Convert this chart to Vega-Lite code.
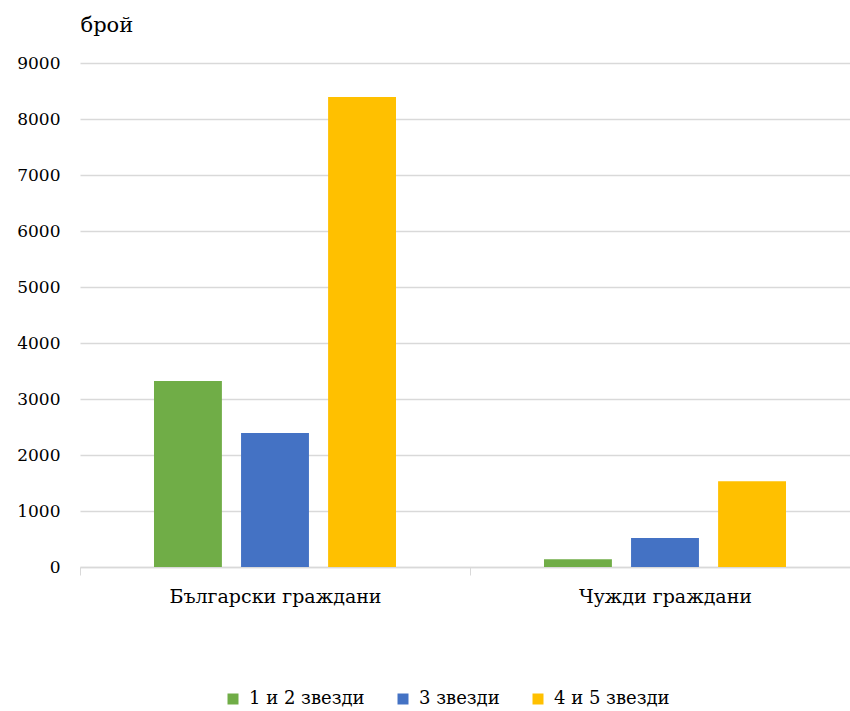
{
  "$schema": "https://vega.github.io/schema/vega-lite/v6.json",
  "autosize": "none",
  "width": 770,
  "height": 504,
  "padding": {"left": 80, "top": 63, "right": 0, "bottom": 144},
  "background": "white",
  "config": {
    "font": "DejaVu Serif",
    "view": {"stroke": null},
    "axis": {"labelFont": "DejaVu Serif", "titleFont": "DejaVu Serif", "labelLimit": 400},
    "legend": {"labelFont": "DejaVu Serif", "labelLimit": 400}
  },
  "data": {
    "values": [
      {"group": "Български граждани", "cat": "1 и 2 звезди", "value": 3320},
      {"group": "Български граждани", "cat": "3 звезди", "value": 2395},
      {"group": "Български граждани", "cat": "4 и 5 звезди", "value": 8395},
      {"group": "Чужди граждани", "cat": "1 и 2 звезди", "value": 140},
      {"group": "Чужди граждани", "cat": "3 звезди", "value": 520},
      {"group": "Чужди граждани", "cat": "4 и 5 звезди", "value": 1530}
    ]
  },
  "mark": {"type": "bar"},
  "encoding": {
    "x": {
      "field": "group",
      "type": "nominal",
      "sort": ["Български граждани", "Чужди граждани"],
      "scale": {"range": [0, 780], "paddingInner": 0, "paddingOuter": 0},
      "axis": {
        "title": null,
        "labelAngle": 0,
        "labelFontSize": 19,
        "labelColor": "#000000",
        "labelPadding": 12,
        "tickBand": "extent",
        "tickSize": 8,
        "tickColor": "#D9D9D9",
        "domainColor": "#D9D9D9",
        "domainWidth": 1.3,
        "grid": false
      }
    },
    "xOffset": {
      "field": "cat",
      "type": "nominal",
      "sort": ["1 и 2 звезди", "3 звезди", "4 и 5 звезди"],
      "scale": {"paddingInner": 0.22, "paddingOuter": 0.85}
    },
    "y": {
      "field": "value",
      "type": "quantitative",
      "scale": {"domain": [0, 9000], "nice": false},
      "axis": {
        "values": [0, 1000, 2000, 3000, 4000, 5000, 6000, 7000, 8000, 9000],
        "format": "d",
        "title": "брой",
        "titleAngle": 0,
        "titleAlign": "left",
        "titleBaseline": "alphabetic",
        "titleX": 0,
        "titleY": -32,
        "titleFontSize": 21,
        "titleFontWeight": "normal",
        "titleColor": "#000000",
        "labelFontSize": 17,
        "labelColor": "#000000",
        "labelPadding": 20,
        "ticks": false,
        "domain": false,
        "gridColor": "#D9D9D9",
        "gridWidth": 1.3
      }
    },
    "color": {
      "field": "cat",
      "type": "nominal",
      "scale": {
        "domain": ["1 и 2 звезди", "3 звезди", "4 и 5 звезди"],
        "range": ["#70AD47", "#4472C4", "#FFC000"]
      },
      "legend": {
        "title": null,
        "orient": "none",
        "direction": "horizontal",
        "legendX": 144,
        "legendY": 627,
        "symbolType": "square",
        "symbolSize": 121,
        "symbolStrokeWidth": 0,
        "labelFontSize": 18,
        "labelColor": "#000000",
        "labelOffset": 7,
        "columnPadding": 29
      }
    }
  }
}
